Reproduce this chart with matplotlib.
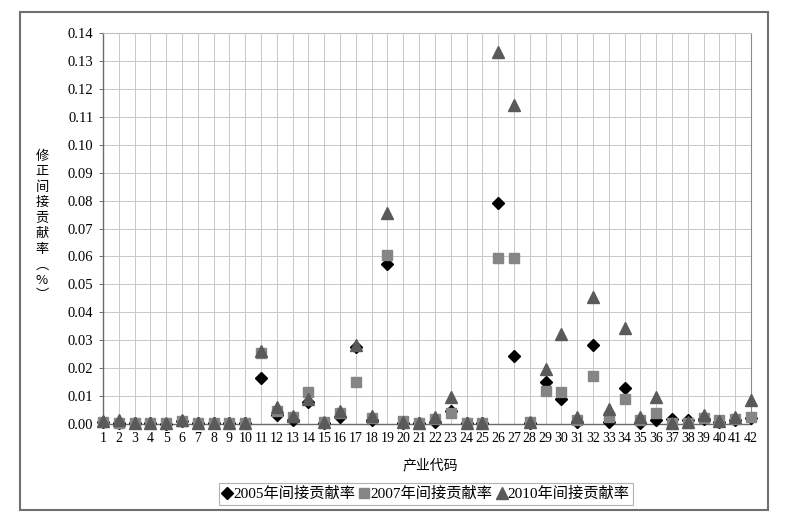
import matplotlib
matplotlib.use("Agg")
import matplotlib.pyplot as plt
from matplotlib.patches import Rectangle
from matplotlib.lines import Line2D

plt.rcParams['font.family'] = ['Liberation Serif', 'Noto Sans CJK SC']

codes = list(range(1, 43))
v2005 = [0.0008, 0.0005, 0.0002, 0.0002, 0.0001, 0.0010, 0.0002, 0.0004, 0.0002, 0.0003,
         0.0166, 0.0033, 0.0014, 0.0078, 0.0003, 0.0026, 0.0277, 0.0015, 0.0573, 0.0005,
         0.0002, 0.0008, 0.0045, 0.0002, 0.0002, 0.0790, 0.0245, 0.0003, 0.0152, 0.0089,
         0.0008, 0.0283, 0.0006, 0.0128, 0.0005, 0.0014, 0.0017, 0.0015, 0.0018, 0.0008,
         0.0015, 0.0020]
v2007 = [0.0008, 0.0005, 0.0003, 0.0002, 0.0002, 0.0010, 0.0002, 0.0005, 0.0002, 0.0004,
         0.0254, 0.0045, 0.0024, 0.0115, 0.0008, 0.0040, 0.0149, 0.0020, 0.0605, 0.0010,
         0.0002, 0.0018, 0.0038, 0.0002, 0.0002, 0.0595, 0.0595, 0.0008, 0.0119, 0.0113,
         0.0014, 0.0173, 0.0026, 0.0089, 0.0015, 0.0041, 0.0003, 0.0003, 0.0022, 0.0013,
         0.0018, 0.0026]
v2010 = [0.0010, 0.0015, 0.0004, 0.0003, 0.0002, 0.0013, 0.0003, 0.0005, 0.0002, 0.0004,
         0.0262, 0.0060, 0.0030, 0.0090, 0.0008, 0.0048, 0.0283, 0.0030, 0.0754, 0.0006,
         0.0002, 0.0026, 0.0096, 0.0002, 0.0002, 0.1331, 0.1142, 0.0008, 0.0196, 0.0322,
         0.0026, 0.0456, 0.0054, 0.0343, 0.0024, 0.0098, 0.0005, 0.0008, 0.0032, 0.0012,
         0.0024, 0.0086]

labels = ['2005年间接贡献率', '2007年间接贡献率', '2010年间接贡献率']
ylabel_chars = ['修', '正', '间', '接', '贡', '献', '率', '︵', '%', '︶']
xlabel = '产业代码'

W, H = 788, 525
fig = plt.figure(figsize=(W / 100, H / 100), dpi=100)
ax = fig.add_axes([103 / W, 1 - 424 / H, (751 - 103) / W, (424 - 33) / H])

ax.plot(codes, v2005, linestyle='none', marker='D', markersize=6.2, color='#000000',
        markeredgecolor='#000000', zorder=3, clip_on=False)
ax.plot(codes, v2007, linestyle='none', marker='s', markersize=7.2, color='#858585',
        markeredgecolor='#858585', zorder=4, clip_on=False)
ax.plot(codes, v2010, linestyle='none', marker='^', markersize=8.2, color='#5a5a5a',
        markeredgecolor='#5a5a5a', zorder=5, clip_on=False)

ax.set_xlim(1, 42)
ax.set_ylim(0, 0.14)
ax.set_xticks(codes)
ax.set_xticklabels([str(c) for c in codes], fontsize=10)
yt = [i * 0.01 for i in range(15)]
ax.set_yticks(yt)
ax.set_yticklabels(['%.2f' % t for t in yt], fontsize=10.5)
ax.grid(True, color='#c8c8c8', linewidth=0.7)
ax.set_axisbelow(True)
for s in ['top', 'right']:
    ax.spines[s].set_color('#c0c0c0')
    ax.spines[s].set_linewidth(0.8)
ax.spines['right'].set_color('#8a8a8a')
for s in ['left', 'bottom']:
    ax.spines[s].set_color('#6a6a6a')
    ax.spines[s].set_linewidth(1.0)
ax.tick_params(axis='y', length=3, width=0.7, color='#6a6a6a', pad=4)
ax.tick_params(axis='x', length=0, pad=6)

fig.text(42 / W, 1 - 226 / H, '\n'.join(ylabel_chars), ha='center', va='center',
         fontsize=9.5, linespacing=1.25, family=['Noto Sans CJK SC', 'DejaVu Sans'])
fig.text(430 / W, 1 - 465 / H, xlabel, ha='center', va='center', fontsize=10,
         family=['Noto Sans CJK SC'])

handles = [
    Line2D([], [], linestyle='none', marker='D', markersize=6.2, color='#000000'),
    Line2D([], [], linestyle='none', marker='s', markersize=7.2, color='#858585'),
    Line2D([], [], linestyle='none', marker='^', markersize=8.2, color='#5a5a5a'),
]
leg = fig.legend(handles, labels, loc='center', bbox_to_anchor=(426 / W, 1 - 494 / H),
                 ncol=3, frameon=True, fancybox=False, fontsize=11,
                 handlelength=0.6, handletextpad=0.1, columnspacing=0.3,
                 borderpad=0.25, borderaxespad=0)
leg.get_frame().set_edgecolor('#a0a0a0')
leg.get_frame().set_linewidth(0.8)

fig.patches.append(Rectangle((20 / W, 1 - 510 / H), (768 - 20) / W, (510 - 12) / H,
                             transform=fig.transFigure, fill=False,
                             edgecolor='#707070', linewidth=1.5))

fig.savefig('out.png', dpi=100)
